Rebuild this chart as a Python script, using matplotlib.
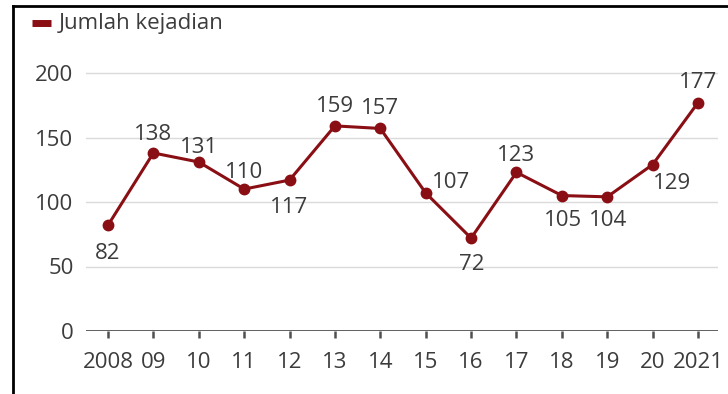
import matplotlib
matplotlib.use("Agg")
import matplotlib.pyplot as plt
from matplotlib.lines import Line2D

years = ["2008", "09", "10", "11", "12", "13", "14", "15", "16", "17", "18", "19", "20", "2021"]
values = [82, 138, 131, 110, 117, 159, 157, 107, 72, 123, 105, 104, 129, 177]
# label offsets in pixels (dx, dy)
label_offsets = [(0, -28), (0, 18), (0, 15), (0, 17), (0, -27), (0, 19), (0, 20),
                 (25, 10), (1, -26), (0, 17), (1, -25), (1, -24), (19, -19), (0, 20)]
yticks = [0, 50, 100, 150, 200]
series_name = "Jumlah kejadian"

plt.rcParams['font.family'] = ['Open Sans', 'DejaVu Sans']
TXT = "#3c3c3c"
RED = "#8a0f14"
FS = 16
W, H = 728, 394
fig = plt.figure(figsize=(W / 100, H / 100), dpi=100)
fig.patch.set_facecolor("white")

left, right = 86, 718
bottom_px, top_px = 331, 60
ax = fig.add_axes([left / W, 1 - bottom_px / H, (right - left) / W, (bottom_px - top_px) / H])
x = list(range(len(years)))
step = (698 - 108) / 13
ax.set_xlim(-(108 - left) / step, 13 + (right - 698) / step)
ax.set_ylim(0, (bottom_px - top_px) / 1.29)

for s in ax.spines.values():
    s.set_visible(False)
for t in yticks[1:]:
    ax.axhline(t, color="#dadada", lw=1.0, zorder=1)
ax.axhline(0, color="#505050", lw=2.0, zorder=2)

ax.set_yticks(yticks)
ax.set_yticklabels([str(t) for t in yticks])
ax.tick_params(axis='y', length=0, pad=9, labelsize=FS, labelcolor=TXT)
ax.set_xticks(x)
ax.set_xticklabels(years)
ax.tick_params(axis='x', length=5, width=1.8, color="#505050", pad=10, labelsize=FS, labelcolor=TXT)

ax.plot(x, values, color=RED, lw=2.2, marker='o', ms=7.5, zorder=3, clip_on=False)
for xi, v, (dx, dy) in zip(x, values, label_offsets):
    ax.annotate(str(v), (xi, v), xytext=(dx, dy), textcoords='offset pixels',
                ha='center', va='center', fontsize=FS, color=TXT)

# legend
fig.add_artist(Line2D([32 / W, 51 / W], [1 - 22.5 / H, 1 - 22.5 / H], color=RED, lw=5,
                      solid_capstyle='butt'))
fig.text(59 / W, 1 - 23 / H, series_name, ha='left', va='center', fontsize=FS, color=TXT)

# frame lines
fig.add_artist(Line2D([13 / W, 13 / W], [0, 1 - 6 / H], color="black", lw=2))
fig.add_artist(Line2D([13 / W, 1], [1 - 6 / H, 1 - 6 / H], color="black", lw=2))

fig.savefig("out.png", dpi=100, facecolor="white")
